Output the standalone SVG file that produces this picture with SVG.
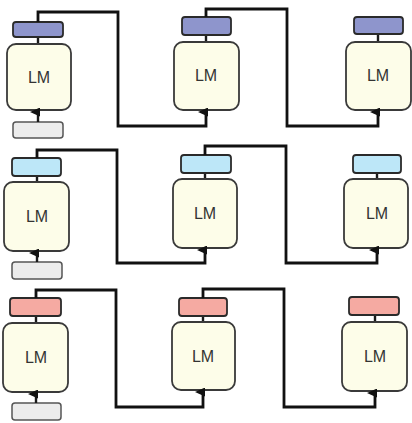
<svg xmlns="http://www.w3.org/2000/svg" width="412" height="423" viewBox="0 0 412 423">
  <defs>
    <style>
      .lm { fill: #fdfde9; stroke: #3a3a3a; stroke-width: 1.8; }
      .head { stroke: #2a2a2a; stroke-width: 1.8; }
      .h-blue { fill: #8e95cc; }
      .h-cyan { fill: #bde7f8; }
      .h-pink { fill: #f5aaa2; }
      .inp { fill: #ececec; stroke: #555; stroke-width: 1.5; }
      .stem { stroke: #1a1a1a; stroke-width: 2.4; fill: none; }
      .wire { stroke: #111; stroke-width: 2.8; fill: none; stroke-linejoin: miter; }
      .lbl { font-family: "Liberation Sans", Arial, sans-serif; font-size: 16px; fill: #333; text-anchor: middle; dominant-baseline: central; }
    </style>
    <marker id="arr" markerUnits="userSpaceOnUse" markerWidth="9" markerHeight="10" refX="4.5" refY="8" orient="auto-start-reverse" viewBox="0 0 9 10">
      <path d="M0,10 L4.5,0 L9,10 Z" fill="#111"/>
    </marker>
  </defs>

  <!-- Row 1 -->
  <g id="r1c1">
    <rect class="inp" x="13" y="122" width="50" height="16" rx="3"/>
    <line class="stem" x1="38" y1="37" x2="38" y2="44"/>
    <rect class="lm" x="7" y="44" width="64" height="66" rx="9"/>
    <rect class="head h-blue" x="13" y="22" width="50" height="15" rx="3"/>
    <text class="lbl" x="39" y="77">LM</text>
  </g>
  <g id="r1c2">
    <line class="stem" x1="206" y1="35" x2="206" y2="42"/>
    <rect class="lm" x="174" y="42" width="65" height="68" rx="9"/>
    <rect class="head h-blue" x="182" y="17" width="49" height="18" rx="3"/>
    <text class="lbl" x="206" y="75">LM</text>
  </g>
  <g id="r1c3">
    <line class="stem" x1="378" y1="34" x2="378" y2="42"/>
    <rect class="lm" x="346" y="42" width="65" height="68" rx="9"/>
    <rect class="head h-blue" x="354" y="17" width="49" height="17" rx="3"/>
    <text class="lbl" x="378" y="75">LM</text>
  </g>

  <!-- Row 2 -->
  <g id="r2c1">
    <rect class="inp" x="12" y="262" width="50" height="17" rx="3"/>
    <line class="stem" x1="37" y1="176" x2="37" y2="182"/>
    <rect class="lm" x="4" y="182" width="65" height="69" rx="9"/>
    <rect class="head h-cyan" x="12" y="158" width="49" height="18" rx="3"/>
    <text class="lbl" x="37" y="216">LM</text>
  </g>
  <g id="r2c2">
    <line class="stem" x1="205" y1="173" x2="205" y2="179"/>
    <rect class="lm" x="173" y="179" width="64" height="69" rx="9"/>
    <rect class="head h-cyan" x="181" y="155" width="50" height="18" rx="3"/>
    <text class="lbl" x="205" y="213">LM</text>
  </g>
  <g id="r2c3">
    <line class="stem" x1="377" y1="173" x2="377" y2="179"/>
    <rect class="lm" x="344" y="179" width="64" height="69" rx="9"/>
    <rect class="head h-cyan" x="353" y="155" width="48" height="18" rx="3"/>
    <text class="lbl" x="377" y="213">LM</text>
  </g>

  <!-- Row 3 -->
  <g id="r3c1">
    <rect class="inp" x="12" y="403" width="49" height="17" rx="3"/>
    <line class="stem" x1="36" y1="316" x2="36" y2="323"/>
    <rect class="lm" x="3" y="323" width="65" height="69" rx="9"/>
    <rect class="head h-pink" x="10" y="298" width="51" height="18" rx="3"/>
    <text class="lbl" x="36" y="357">LM</text>
  </g>
  <g id="r3c2">
    <line class="stem" x1="203" y1="316" x2="203" y2="322"/>
    <rect class="lm" x="172" y="322" width="63" height="68" rx="9"/>
    <rect class="head h-pink" x="179" y="298" width="48" height="18" rx="3"/>
    <text class="lbl" x="203" y="356">LM</text>
  </g>
  <g id="r3c3">
    <line class="stem" x1="375" y1="315" x2="375" y2="322"/>
    <rect class="lm" x="342" y="322" width="65" height="69" rx="9"/>
    <rect class="head h-pink" x="349" y="297" width="50" height="18" rx="3"/>
    <text class="lbl" x="375" y="356">LM</text>
  </g>

  <!-- Connectors -->
  <g id="connectors">
    <!-- input arrows -->
    <line class="stem" x1="38" y1="122" x2="38" y2="112" marker-end="url(#arr)"/>
    <line class="stem" x1="37" y1="262" x2="37" y2="253" marker-end="url(#arr)"/>
    <line class="stem" x1="36" y1="403" x2="36" y2="394" marker-end="url(#arr)"/>
    <!-- row 1 -->
    <path class="wire" d="M38,22 V12 H118 V126 H206 V112" marker-end="url(#arr)"/>
    <path class="wire" d="M206,17 V9 H287 V126 H378 V112" marker-end="url(#arr)"/>
    <!-- row 2 -->
    <path class="wire" d="M37,158 V150 H117 V263 H205 V250" marker-end="url(#arr)"/>
    <path class="wire" d="M205,155 V146 H286 V263 H377 V250" marker-end="url(#arr)"/>
    <!-- row 3 -->
    <path class="wire" d="M36,298 V290 H116 V407 H203 V392" marker-end="url(#arr)"/>
    <path class="wire" d="M203,298 V289 H284 V407 H375 V393" marker-end="url(#arr)"/>
  </g>
</svg>
